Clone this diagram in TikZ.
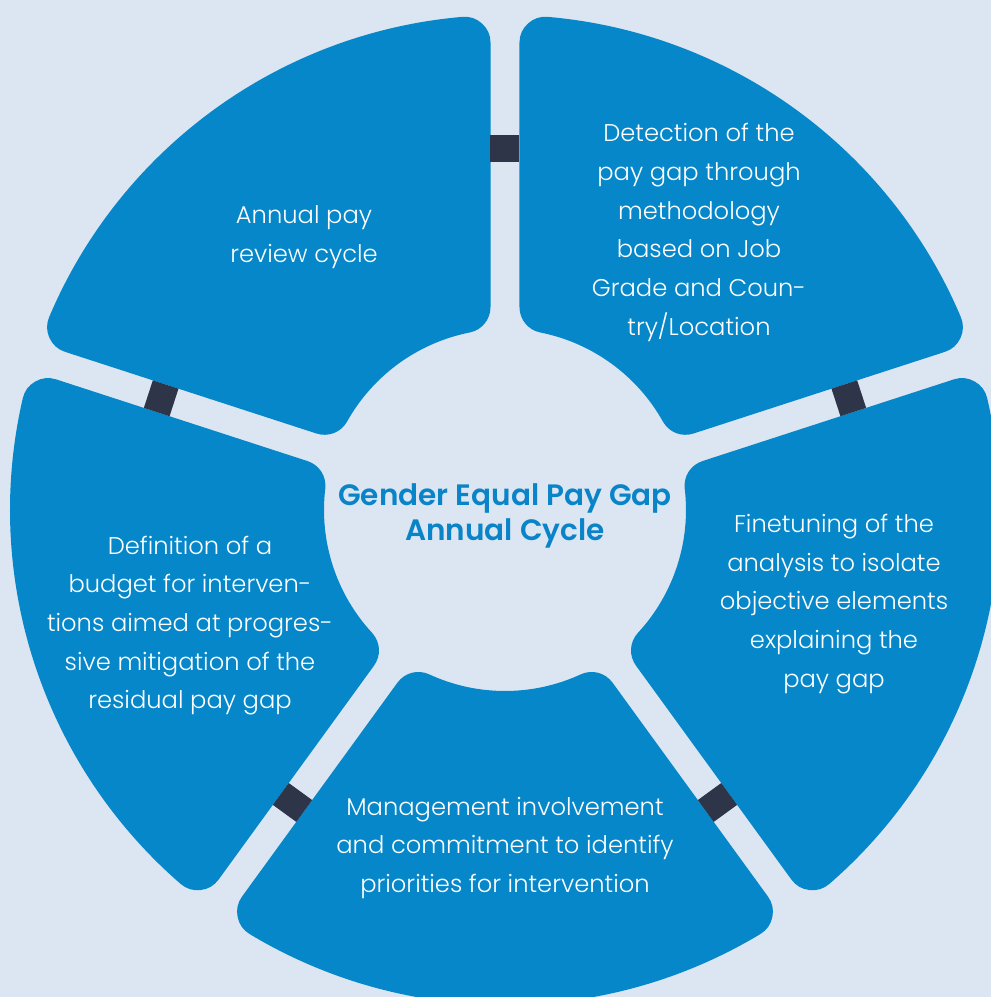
\documentclass[tikz,border=0pt]{standalone}
\usepackage{fontspec}
\IfFontExistsTF{Poppins Light}
  {\setmainfont{Poppins Light}[BoldFont={Poppins SemiBold}]}
  {\setmainfont{Poppins}}
\usetikzlibrary{positioning}
\definecolor{bgcol}{HTML}{DCE6F2}
\definecolor{segcol}{HTML}{0587C9}
\definecolor{barcol}{HTML}{2E3548}
\definecolor{titlecol}{HTML}{0A84C8}
\tikzstyle{segment} = [fill=segcol, draw=segcol, line width=52bp, line join=round]
\tikzstyle{bar} = [fill=barcol]
\tikzstyle{caption} = [text=white, align=center, inner sep=0pt, font=\fontsize{24.2bp}{38.7bp}\selectfont]
\tikzstyle{title} = [text=titlecol, align=center, inner sep=0pt, font=\fontsize{29.5bp}{35bp}\selectfont\bfseries]

\begin{document}
\begin{tikzpicture}[x=1bp, y=1bp]

\fill[bgcol] (-505,-487) rectangle (486,510);
\useasboundingbox (-505,-487) rectangle (486,510);
\clip (-505,-487) rectangle (486,510);

% the five parts of the ring
\path[segment] (101.28:207) -- (94.95:469) arc[start angle=94.95, end angle=157.05, radius=469]
  -- (150.72:207) arc[start angle=150.72, end angle=101.28, radius=207] -- cycle;
\path[segment] (29.28:207) -- (22.95:469) arc[start angle=22.95, end angle=85.05, radius=469]
  -- (78.72:207) arc[start angle=78.72, end angle=29.28, radius=207] -- cycle;
\path[segment] (-42.72:207) -- (-49.05:469) arc[start angle=-49.05, end angle=13.05, radius=469]
  -- (6.72:207) arc[start angle=6.72, end angle=-42.72, radius=207] -- cycle;
\path[segment] (-114.72:207) -- (-121.05:469) arc[start angle=-121.05, end angle=-58.95, radius=469]
  -- (-65.28:207) arc[start angle=-65.28, end angle=-114.72, radius=207] -- cycle;
\path[segment] (173.28:207) -- (166.95:469) arc[start angle=166.95, end angle=229.05, radius=469]
  -- (222.72:207) arc[start angle=222.72, end angle=173.28, radius=207] -- cycle;

% links between the parts
\fill[bar, rotate=90] (348,-14.5) rectangle (375,14.5);
\fill[bar, rotate=18] (348,-14.5) rectangle (375,14.5);
\fill[bar, rotate=-54] (348,-14.5) rectangle (375,14.5);
\fill[bar, rotate=-126] (348,-14.5) rectangle (375,14.5);
\fill[bar, rotate=162] (348,-14.5) rectangle (375,14.5);

\node [title] (cycle) at (0,-5.5) {Gender Equal Pay Gap\\Annual Cycle};

\node [caption] (review) at (-201,273) {Annual pay\\review cycle};
\node [caption] (detection) at (194,277.5) {Detection of the\\pay gap through\\methodology\\based on Job\\Grade and Coun-\\try/Location};
\node [caption] (finetuning) at (329,-94) {Finetuning of the\\analysis to isolate\\objective elements\\explaining the\\pay gap};
\node [caption] (management) at (0,-338) {Management involvement\\and commitment to identify\\priorities for intervention};
\node [caption] (budget) at (-315,-115.5) {Definition of a\\budget for interven-\\tions aimed at progres-\\sive mitigation of the\\residual pay gap};

\end{tikzpicture}
\end{document}
